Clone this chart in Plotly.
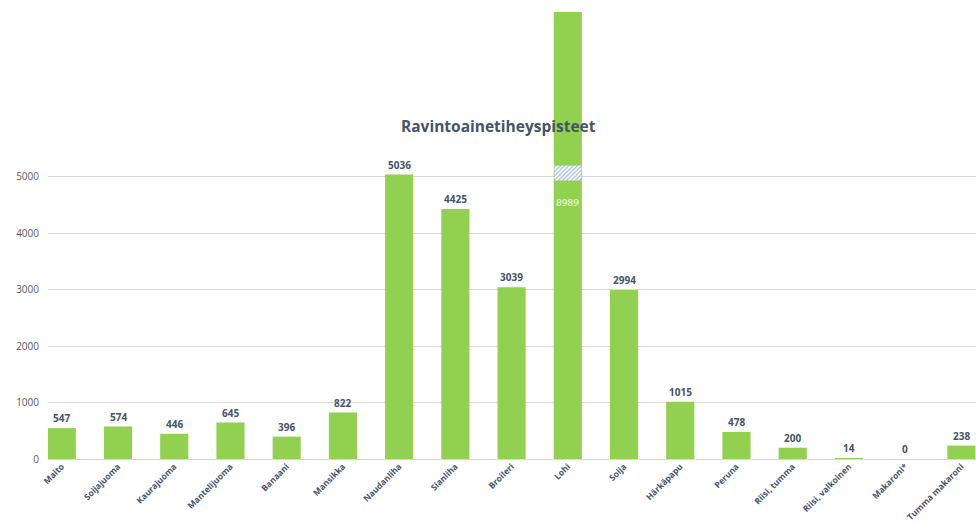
import plotly.graph_objects as go

# Nutrient density points per food
categories = ["Maito", "Soijajuoma", "Kaurajuoma", "Mantelijuoma", "Banaani", "Mansikka",
              "Naudanliha", "Sianliha", "Broileri", "Lohi", "Soija", "Härkäpapu", "Peruna",
              "Riisi, tumma", "Riisi, valkoinen", "Makaroni*", "Tumma makaroni"]
values = [547, 574, 446, 645, 396, 822, 5036, 4425, 3039, 8989, 2994, 1015, 478, 200, 14, 0, 238]
y_ticks = [0, 1000, 2000, 3000, 4000, 5000]

# Axis break drawn over the tall salmon bar
broken_cat = "Lohi"
break_low, break_high = 4930, 5195
broken_label_y = 4540

GREEN = "#92D050"
TEXT = "#44546A"

fig = go.Figure()
fig.add_trace(go.Bar(
    x=categories, y=values, width=0.5,
    marker=dict(color=GREEN, line=dict(width=0)),
    hoverinfo="x+y", showlegend=False,
))
fig.add_trace(go.Bar(
    x=[broken_cat], y=[break_high - break_low], base=[break_low], width=0.48,
    marker=dict(color="white", line=dict(width=0),
                pattern=dict(shape="/", fgcolor="#4472C4", bgcolor="white",
                             size=3, solidity=0.4)),
    hoverinfo="skip", showlegend=False,
))

annotations = []
for cat, val in zip(categories, values):
    if cat == broken_cat:
        annotations.append(dict(x=cat, y=broken_label_y, text=str(val), showarrow=False,
                                font=dict(family="DejaVu Serif", size=9, color="white"),
                                xanchor="center", yanchor="middle"))
    else:
        annotations.append(dict(x=cat, y=val, text=f"<b>{val}</b>", showarrow=False,
                                font=dict(family="Open Sans", size=10, color=TEXT),
                                xanchor="center", yanchor="bottom", yshift=1))

annotations.append(dict(xref="paper", yref="paper", x=0.485, y=0.745,
                        text="<b>Ravintoainetiheyspisteet</b>", showarrow=False,
                        font=dict(family="Open Sans", size=15.5, color=TEXT),
                        xanchor="center", yanchor="middle"))

fig.update_layout(
    width=976, height=522,
    margin=dict(l=48, r=0, t=12, b=63),
    paper_bgcolor="white", plot_bgcolor="white",
    barmode="overlay",
    annotations=annotations,
    xaxis=dict(
        type="category", range=[-0.245, 16.26], automargin=False,
        tickangle=-45, showgrid=False, zeroline=False,
        showline=False, ticks="",
        tickfont=dict(family="Open Sans", size=8.5, color=TEXT, weight="bold"),
    ),
    yaxis=dict(
        range=[0, 7914], tickvals=y_ticks, ticktext=[str(v) for v in y_ticks],
        automargin=False,
        showgrid=True, gridcolor="#D9D9D9", gridwidth=1,
        zeroline=True, zerolinecolor="#D9D9D9", zerolinewidth=1,
        showline=False, ticks="", ticklabelstandoff=8,
        tickfont=dict(family="Open Sans", size=10, color="#595959"),
    ),
)

fig.write_html("out.html")
